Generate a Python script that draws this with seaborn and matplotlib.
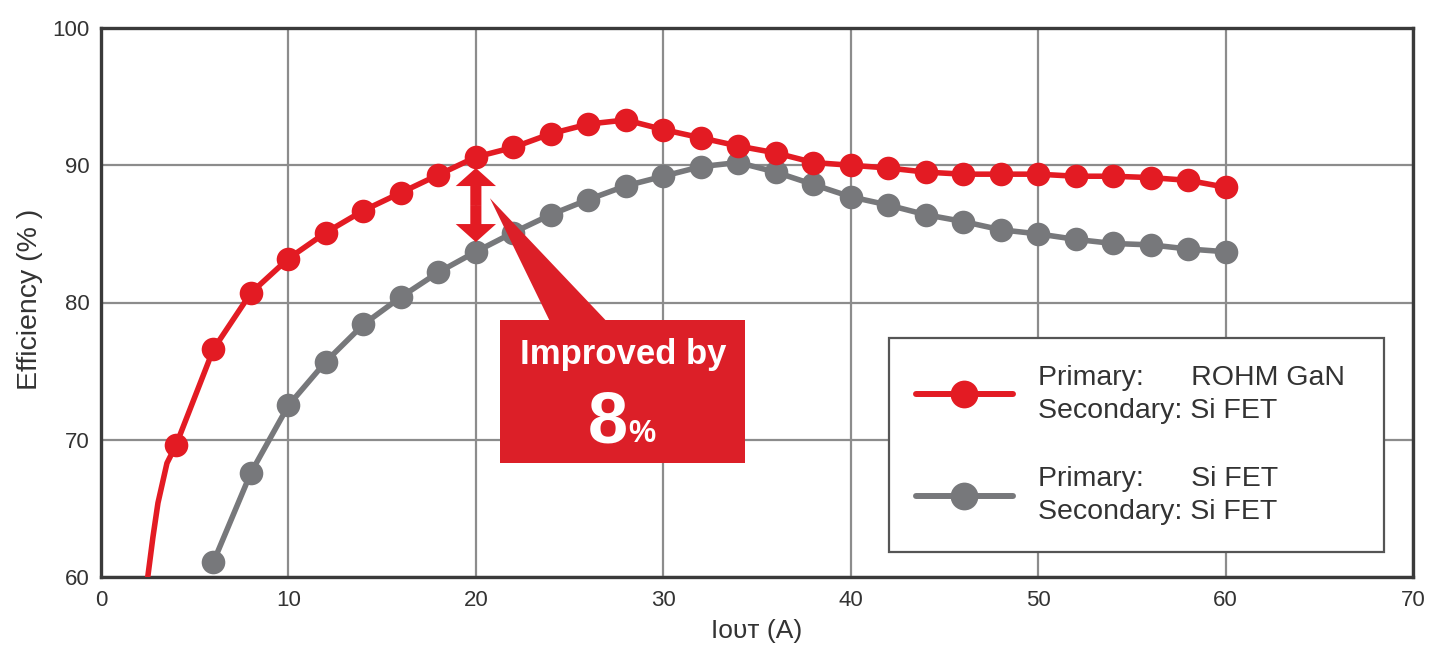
import matplotlib
matplotlib.use("Agg")
import matplotlib.pyplot as plt
from matplotlib.lines import Line2D
from matplotlib.patches import Rectangle, Polygon
import seaborn as sns
import pandas as pd

# ---------------- data ----------------
iout_gan = [4, 6, 8, 10, 12, 14, 16, 18, 20, 22, 24, 26, 28, 30, 32, 34, 36,
            38, 40, 42, 44, 46, 48, 50, 52, 54, 56, 58, 60]
eff_gan = [69.6, 76.6, 80.7, 83.2, 85.1, 86.7, 88.0, 89.3, 90.6, 91.3, 92.3,
           93.0, 93.3, 92.6, 92.0, 91.4, 90.9, 90.2, 90.0, 89.8, 89.5, 89.35,
           89.35, 89.35, 89.2, 89.2, 89.1, 88.9, 88.4]
# unmarked start of the red curve (runs below the axis)
gan_tail_x = [2.4, 2.77, 3.04, 3.52]
gan_tail_y = [59.0, 62.9, 65.4, 68.3]

iout_si = [6, 8, 10, 12, 14, 16, 18, 20, 22, 24, 26, 28, 30, 32, 34, 36, 38,
           40, 42, 44, 46, 48, 50, 52, 54, 56, 58, 60]
eff_si = [61.1, 67.6, 72.5, 75.7, 78.4, 80.4, 82.2, 83.7, 85.1, 86.4, 87.5,
          88.5, 89.2, 89.9, 90.2, 89.5, 88.6, 87.7, 87.1, 86.4, 85.9, 85.3,
          85.0, 84.6, 84.3, 84.2, 83.9, 83.7]

x_ticks = [0, 10, 20, 30, 40, 50, 60, 70]
y_ticks = [60, 70, 80, 90, 100]

label_gan = "Primary:      ROHM GaN\nSecondary: Si FET"
label_si = "Primary:      Si FET\nSecondary: Si FET"

RED = "#e31b23"
BOX_RED = "#dc1f28"
GRAY = "#77787b"
TXT = "#333333"

# ---------------- figure ----------------
sns.set_style("white")
plt.rcParams["font.family"] = ["Liberation Sans", "DejaVu Sans"]

W, H = 1429, 647
fig = plt.figure(figsize=(W / 100, H / 100), dpi=100)
ax = fig.add_axes([101 / W, 1 - 577 / H, 1312 / W, 549 / H])

df_gan_line = pd.DataFrame({"x": gan_tail_x + iout_gan,
                            "y": gan_tail_y + eff_gan})
df_gan = pd.DataFrame({"x": iout_gan, "y": eff_gan})
df_si = pd.DataFrame({"x": iout_si, "y": eff_si})

sns.lineplot(data=df_si, x="x", y="y", ax=ax, color=GRAY, lw=4,
             marker="o", markersize=17, markeredgewidth=0, zorder=3,
             estimator=None, sort=False)
sns.lineplot(data=df_gan_line, x="x", y="y", ax=ax, color=RED, lw=4,
             zorder=4, estimator=None, sort=False)
sns.lineplot(data=df_gan, x="x", y="y", ax=ax, color=RED, lw=0,
             marker="o", markersize=17, markeredgewidth=0, zorder=4,
             estimator=None, sort=False)

ax.set_xlim(0, 70)
ax.set_ylim(60, 100)
ax.set_xticks(x_ticks)
ax.set_yticks(y_ticks)
ax.tick_params(length=0, labelsize=16, labelcolor=TXT)
ax.tick_params(axis="x", pad=9)
ax.tick_params(axis="y", pad=8)
ax.grid(True, color="#8c8c8c", lw=1.6)
ax.set_axisbelow(True)
for s in ax.spines.values():
    s.set_color("#3a3a3a")
    s.set_linewidth(2.4)

ax.set_xlabel("Iᴏᴜᴛ (A)", fontsize=19, color=TXT, labelpad=6)
ax.set_ylabel("Efficiency (% )", fontsize=20.5, color=TXT)
ax.yaxis.set_label_coords(-0.0442, 0.506)

# ---------------- annotation ----------------
arrow_kw = dict(arrowstyle="simple,head_length=1.3,head_width=2.9,tail_width=0.8",
                color=RED, shrinkA=0, shrinkB=0, lw=0)
ax.annotate("", xy=(20, 89.8), xytext=(20, 87.1), arrowprops=arrow_kw, zorder=6)
ax.annotate("", xy=(20, 84.4), xytext=(20, 87.1), arrowprops=arrow_kw, zorder=6)

ax.add_patch(Polygon([(20.75, 87.6), (23.96, 78.6), (27.0, 78.6)],
                     closed=True, facecolor=BOX_RED, edgecolor="none", zorder=5))
ax.add_patch(Rectangle((21.29, 68.3), 13.07, 10.42, facecolor=BOX_RED,
                       edgecolor="none", zorder=5))
ax.text(27.85, 76.2, "Improved by", color="white", fontsize=25,
        fontweight="bold", ha="center", va="center", zorder=7)
ax.text(28.1, 69.8, "8", color="white", fontsize=52, fontweight="bold",
        ha="right", va="baseline", zorder=7)
ax.text(28.15, 69.8, "%", color="white", fontsize=22, fontweight="bold",
        ha="left", va="baseline", zorder=7)

# ---------------- legend ----------------
handles = [Line2D([], [], color=RED, lw=4.3, marker="o", markersize=20,
                  markeredgewidth=0),
           Line2D([], [], color=GRAY, lw=4.3, marker="o", markersize=20,
                  markeredgewidth=0)]
leg = ax.legend(handles, [label_gan, label_si], loc="upper left",
                bbox_to_anchor=(0.6006, 0.0455, 0.3774, 0.3895), mode="expand",
                fontsize=20.5, frameon=True, fancybox=False, framealpha=1,
                edgecolor="#555555", borderpad=0.95, handlelength=3.4,
                handletextpad=0.88, labelspacing=1.5, borderaxespad=0)
leg.get_frame().set_linewidth(1.6)
for t in leg.get_texts():
    t.set_color(TXT)
    t.set_linespacing(1.32)

fig.savefig("out.png", dpi=100)
